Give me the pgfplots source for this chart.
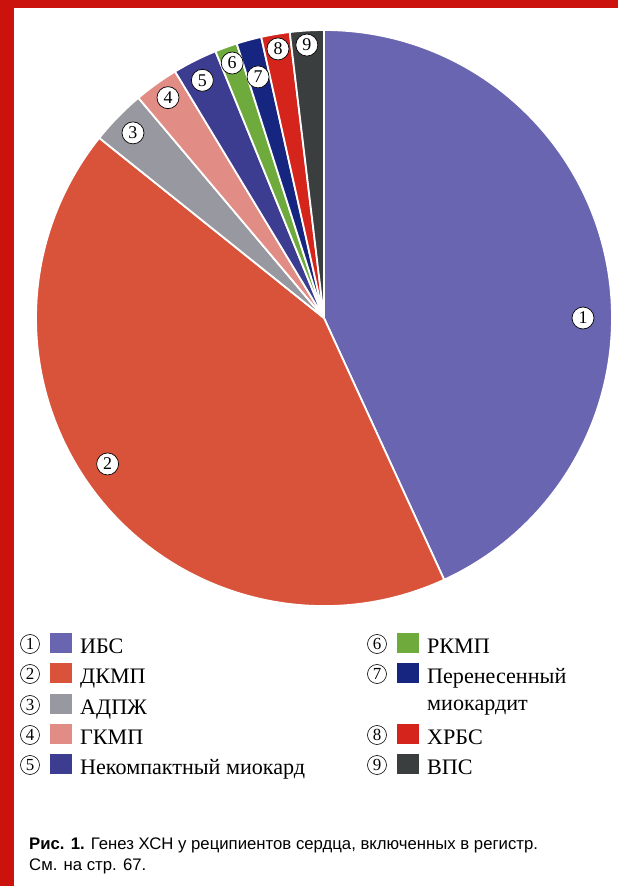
\documentclass[border=0pt]{standalone}
\usepackage{fontspec}
\setmainfont{Liberation Serif}
\setsansfont{Liberation Sans}
\usepackage{pgfplots}
\usepackage{pgfplotstable}
\pgfplotsset{compat=1.18}

\definecolor{frame}{RGB}{204,18,12}
\definecolor{slice0}{RGB}{106,101,176} % ИБС
\definecolor{slice1}{RGB}{217,82,58}   % ДКМП
\definecolor{slice2}{RGB}{152,152,160} % АДПЖ
\definecolor{slice3}{RGB}{226,140,134} % ГКМП
\definecolor{slice4}{RGB}{60,60,145}   % Некомпактный миокард
\definecolor{slice5}{RGB}{110,170,60}  % РКМП
\definecolor{slice6}{RGB}{22,38,128}   % Перенесенный миокардит
\definecolor{slice7}{RGB}{212,36,28}   % ХРБС
\definecolor{slice8}{RGB}{58,62,62}    % ВПС

% shares in %, clockwise from 12 o'clock
\pgfplotstableread{
n share
1 43.15
2 42.6
3 3.1
4 2.5
5 2.5
6 1.25
7 1.4
8 1.6
9 1.9
}\genez

\begin{document}
\begin{tikzpicture}
\pgfplotstablegetrowsof{\genez}
\pgfmathtruncatemacro\nlast{\pgfplotsretval-1}
\xdef\cum{90}
\foreach \i in {0,...,\nlast}{%
  \pgfplotstablegetelem{\i}{share}\of\genez
  \pgfmathsetmacro\nxt{\cum-3.6*\pgfplotsretval}%
  \expandafter\xdef\csname sa\i\endcsname{\cum}%
  \expandafter\xdef\csname ea\i\endcsname{\nxt}%
  \xdef\cum{\nxt}%
}

\path[use as bounding box, fill=white] (0,0) rectangle (618bp,-886bp);
\fill[frame] (0,0) rectangle (618bp,-8bp);
\fill[frame] (0,0) rectangle (14bp,-886bp);

\begin{axis}[at={(324bp,-318bp)}, anchor=center,
    scale only axis, width=576bp, height=576bp,
    xmin=-1, xmax=1, ymin=-1, ymax=1,
    hide axis, clip=false]
\pgfplotsinvokeforeach{0,...,8}{
  \draw[white, line width=1.8bp, fill=slice#1]
    (axis cs:0,0) -- ++(\csname sa#1\endcsname:288bp)
    arc[start angle=\csname sa#1\endcsname, end angle=\csname ea#1\endcsname, radius=288bp]
    -- cycle;
}
\end{axis}

\begin{scope}[x=1bp, y=-1bp]
% numbers on the slices
\foreach \n/\a/\r in {1/0/259, 2/214/261, 3/135.9/266, 4/125.3/270, 5/117.1/267,
                      6/109.8/271, 7/105.3/250, 8/99.7/273, 9/93.6/273.5}
  \node[circle, draw=black, line width=0.7bp, fill=white, minimum size=22bp,
        inner sep=0pt, font=\fontsize{18}{18}\selectfont]
    at ([shift={(\a:\r bp)}]324,318) {\n};

% legend
\foreach \cx/\by/\n/\c/\t in {
    30/653/1/slice0/ИБС, 30/683/2/slice1/ДКМП, 30/714/3/slice2/АДПЖ,
    30/744/4/slice3/ГКМП, 30/774/5/slice4/Некомпактный миокард,
    377/653/6/slice5/РКМП, 377/683/7/slice6/Перенесенный,
    377/744/8/slice7/ХРБС, 377/774/9/slice8/ВПС}{
  \node[circle, draw=black, line width=0.6bp, minimum size=19bp, inner sep=0pt,
        font=\fontsize{17}{17}\selectfont] at (\cx,\by-9) {\n};
  \fill[\c] (\cx+20,\by-20) rectangle (\cx+42,\by);
  \node[anchor=base west, inner sep=0pt, font=\fontsize{22.2}{26}\selectfont]
    at (\cx+50,\by) {\t};
}
\node[anchor=base west, inner sep=0pt, font=\fontsize{22.2}{26}\selectfont]
  at (427,710) {миокардит};

% caption
\node[anchor=base west, inner sep=0pt, font=\sffamily\fontsize{16.8}{21}\selectfont]
  at (29,849) {\textbf{Рис. 1.} Генез ХСН у реципиентов сердца, включенных в регистр.};
\node[anchor=base west, inner sep=0pt, font=\sffamily\fontsize{16.8}{21}\selectfont]
  at (29,870) {См. на стр. 67.};
\end{scope}
\end{tikzpicture}
\end{document}
